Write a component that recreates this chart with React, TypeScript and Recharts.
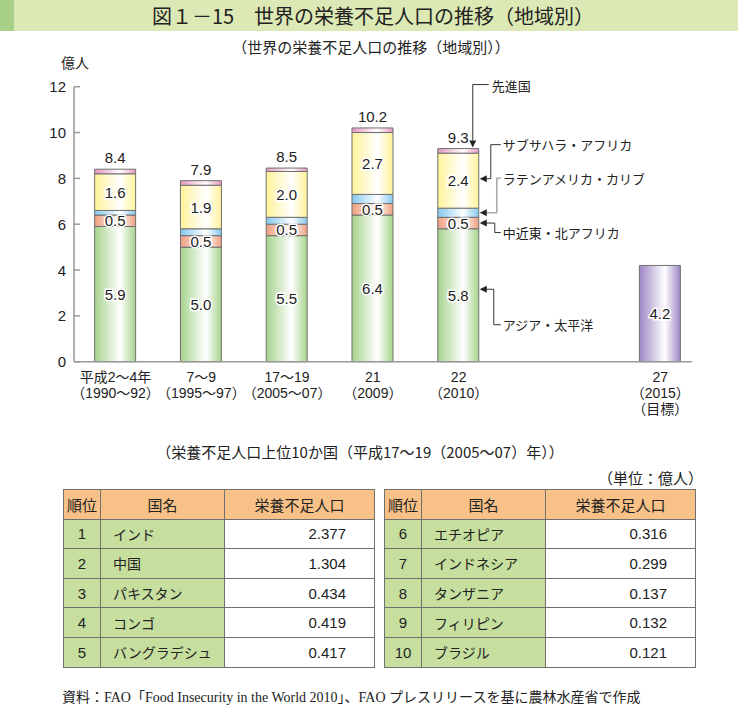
import { BarChart, Bar, XAxis, YAxis, LabelList } from 'recharts'

// period labels on the x axis
const periods = ['平成2～4年', '7～9', '17～19', '21', '22', '27']
const periodYears = ['（1990～92）', '（1995～97）', '（2005～07）', '（2009）', '（2010）', '（2015）']
const periodNotes = ['', '', '', '', '', '（目標）']
// axis position of each period (the target year stands apart)
const slots = [0, 1, 2, 3, 4, 6.35]

// 億人, bottom to top of each stack
const asiaPacific = [5.9, 5.0, 5.5, 6.4, 5.8, null]
const nearEastNorthAfrica = [0.5, 0.5, 0.5, 0.5, 0.5, null]
const latinAmerica = [0.2, 0.3, 0.3, 0.4, 0.4, null]
const subSaharaAfrica = [1.6, 1.9, 2.0, 2.7, 2.4, null]
const developed = [0.2, 0.2, 0.15, 0.2, 0.2, null]
const target = [null, null, null, null, null, 4.2]
const totals = [8.4, 7.9, 8.5, 10.2, 9.3, null]
const yTicks = [0, 2, 4, 6, 8, 10, 12]

// top 10 countries (平成17～19年)
const ranks = [1, 2, 3, 4, 5, 6, 7, 8, 9, 10]
const countries = ['インド', '中国', 'パキスタン', 'コンゴ', 'バングラデシュ', 'エチオピア', 'インドネシア', 'タンザニア', 'フィリピン', 'ブラジル']
const undernourished = [2.377, 1.304, 0.434, 0.419, 0.417, 0.316, 0.299, 0.137, 0.132, 0.121]

const data = periods.map((p, i) => ({
  pos: slots[i],
  period: p,
  asia: asiaPacific[i],
  nena: nearEastNorthAfrica[i],
  latam: latinAmerica[i],
  ssa: subSaharaAfrica[i],
  dev: developed[i],
  target: target[i],
}))

const JP = "'Noto Sans CJK JP', sans-serif"
const NUM = "'Liberation Sans', 'Noto Sans CJK JP', sans-serif"
const INK = '#222'
const EDGE = '#707070'

const gradients = [
  { id: 'gGreen', c: '#a6d38c' },
  { id: 'gOrange', c: '#ee9f80' },
  { id: 'gBlue', c: '#86c8ee' },
  { id: 'gYellow', c: '#fff39a' },
  { id: 'gPink', c: '#e597bf' },
  { id: 'gPurple', c: '#9d86c4' },
]

function box(p: any) {
  const vb = p.viewBox ?? p
  return { x: +vb.x, y: +vb.y, width: +vb.width, height: +vb.height }
}

function InsideValue(props: any) {
  const { x, y, width, height } = box(props)
  if (props.value == null || !height) return null
  return (
    <text
      x={x + width / 2}
      y={y + height / 2}
      textAnchor="middle"
      dominantBaseline="central"
      fontFamily={NUM}
      fontSize={15}
      fill={INK}
      stroke="#fff"
      strokeWidth={3}
      paintOrder="stroke"
    >
      {Number(props.value).toFixed(1)}
    </text>
  )
}

function TotalValue(props: any) {
  const { x, y, width } = box(props)
  const t = totals[props.index]
  if (t == null) return null
  return (
    <text x={x + width / 2} y={y - 6} textAnchor="middle" fontFamily={NUM} fontSize={15} fill={INK}>
      {t.toFixed(1)}
    </text>
  )
}

function arrowLeft(tx: number, ty: number) {
  return `${tx},${ty} ${tx + 7},${ty - 3.5} ${tx + 7},${ty + 3.5}`
}

// leader lines for the 平成22 bar
function makeCallout(kind: string, label: string) {
  return (props: any) => {
    if (props.index !== 4) return null
    const { x, y, width, height } = box(props)
    const r = x + width
    const mid = y + height / 2
    const txt = (tx: number, ty: number) => (
      <text x={tx} y={ty} dominantBaseline="central" fontFamily={JP} fontSize={13} fill={INK}>
        {label}
      </text>
    )
    if (kind === 'dev') {
      const ax = r - 6
      const top = y - 64
      return (
        <g>
          <polyline points={`${r + 10},${top} ${ax},${top} ${ax},${y - 8}`} fill="none" stroke="#333" />
          <polygon points={`${ax},${y - 1} ${ax - 3.5},${y - 8} ${ax + 3.5},${y - 8}`} fill="#222" />
          {txt(r + 13, top + 1)}
        </g>
      )
    }
    let vx = r + 12
    let ty = mid - 36
    let ay = mid - 2
    let color = '#333'
    if (kind === 'latam') { vx = r + 18; ty = mid - 34.5; ay = mid; color = '#aaa' }
    if (kind === 'nena') { vx = r + 16; ty = mid + 9.5; ay = mid }
    if (kind === 'asia') { vx = r + 15; ty = mid + 29.5; ay = mid - 6 }
    return (
      <g>
        <polyline
          points={`${r + 7},${ay} ${vx},${ay} ${vx},${ty} ${r + 22},${ty}`}
          fill="none"
          stroke={color}
          strokeWidth={color === '#aaa' ? 1.6 : 1}
        />
        <polygon points={arrowLeft(r + 1, ay)} fill="#222" />
        {txt(r + 24, ty)}
      </g>
    )
  }
}

function YTick(props: any) {
  const { x, y, payload } = props
  return (
    <g>
      <line x1={x + 8} x2={x + 14} y1={y} y2={y} stroke="#999" strokeWidth={1.5} />
      <text x={x} y={y} textAnchor="end" dominantBaseline="central" fontFamily={NUM} fontSize={15} fill={INK}>
        {payload.value}
      </text>
    </g>
  )
}

function XTick(props: any) {
  const { x, y, payload } = props
  const i = slots.indexOf(payload.value)
  if (i < 0) return null
  const lines = [periods[i], periodYears[i], periodNotes[i]].filter(Boolean)
  return (
    <g>
      {lines.map((l, k) => (
        <text key={k} x={x} y={y + 15.5 + k * 16} textAnchor="middle" dominantBaseline="central" fontFamily={NUM} fontSize={14} fill={INK}>
          {l}
        </text>
      ))}
    </g>
  )
}

const cellBase = { border: `1px solid ${EDGE}`, padding: 0, height: 28.6, fontSize: 15, color: INK }

function RankTable({ from, left }: { from: number; left: number }) {
  const rows = ranks.slice(from, from + 5)
  return (
    <table
      style={{
        position: 'absolute', left, top: 489, width: 311, borderCollapse: 'collapse',
        tableLayout: 'fixed', fontFamily: NUM,
      }}
    >
      <colgroup>
        <col style={{ width: 37 }} />
        <col style={{ width: 124 }} />
        <col style={{ width: 150 }} />
      </colgroup>
      <thead>
        <tr style={{ background: '#f8c187' }}>
          <th style={{ ...cellBase, fontWeight: 'normal', fontFamily: JP }}>順位</th>
          <th style={{ ...cellBase, fontWeight: 'normal', fontFamily: JP }}>国名</th>
          <th style={{ ...cellBase, fontWeight: 'normal', fontFamily: JP }}>栄養不足人口</th>
        </tr>
      </thead>
      <tbody>
        {rows.map((rank, k) => (
          <tr key={rank}>
            <td style={{ ...cellBase, background: '#c6df9f', textAlign: 'center' }}>{rank}</td>
            <td style={{ ...cellBase, background: '#c6df9f', paddingLeft: 12, fontFamily: JP, fontSize: 14 }}>
              {countries[from + k]}
            </td>
            <td style={{ ...cellBase, background: '#fff', textAlign: 'right', paddingRight: 28 }}>
              {undernourished[from + k].toFixed(3)}
            </td>
          </tr>
        ))}
      </tbody>
    </table>
  )
}

export default function App() {
  return (
    <div style={{ position: 'absolute', left: 0, top: 0, width: 738, height: 728, background: '#fff', fontFamily: JP, color: INK }}>
      <div style={{ position: 'absolute', left: 0, top: 0, width: 738, height: 31, background: '#dde9b5' }} />
      <div style={{ position: 'absolute', left: 0, top: 0, width: 14, height: 31, background: '#a8d088' }} />
      <div style={{ position: 'absolute', left: 0, top: 0, width: 746, height: 31, lineHeight: '31px', textAlign: 'center', fontSize: 20 }}>
        図１－15　世界の栄養不足人口の推移（地域別）
      </div>
      <div style={{ position: 'absolute', left: 0, top: 37, width: 742, textAlign: 'center', fontSize: 15, lineHeight: '20px' }}>
        （世界の栄養不足人口の推移（地域別））
      </div>
      <div style={{ position: 'absolute', left: 61, top: 52, fontSize: 14, lineHeight: '20px' }}>億人</div>

      <div style={{ position: 'absolute', left: 0, top: 0 }}>
        <BarChart width={738} height={440} data={data} margin={{ top: 86.7, right: 46, bottom: 18.3, left: 0 }}>
          <defs>
            {gradients.map((g) => (
              <linearGradient key={g.id} id={g.id} x1="0" y1="0" x2="1" y2="0">
                <stop offset="0%" stopColor={g.c} />
                <stop offset="62%" stopColor="#ffffff" />
                <stop offset="100%" stopColor={g.c} />
              </linearGradient>
            ))}
          </defs>
          <XAxis
            dataKey="pos"
            type="number"
            domain={[-0.484, 6.72]}
            ticks={slots}
            interval={0}
            height={60}
            tickLine={false}
            tickSize={0}
            tickMargin={0}
            axisLine={{ stroke: '#999', strokeWidth: 1.5 }}
            tick={<XTick />}
            allowDataOverflow
          />
          <YAxis
            type="number"
            domain={[0, 12]}
            ticks={yTicks}
            width={74}
            tickLine={false}
            tickSize={0}
            tickMargin={8}
            axisLine={{ stroke: '#999', strokeWidth: 1.5 }}
            tick={<YTick />}
          />
          <Bar dataKey="asia" stackId="a" barSize={41} fill="url(#gGreen)" stroke={EDGE} isAnimationActive={false}>
            <LabelList dataKey="asia" content={<InsideValue />} />
            <LabelList dataKey="asia" content={makeCallout('asia', 'アジア・太平洋')} />
          </Bar>
          <Bar dataKey="nena" stackId="a" barSize={41} fill="url(#gOrange)" stroke={EDGE} isAnimationActive={false}>
            <LabelList dataKey="nena" content={<InsideValue />} />
            <LabelList dataKey="nena" content={makeCallout('nena', '中近東・北アフリカ')} />
          </Bar>
          <Bar dataKey="latam" stackId="a" barSize={41} fill="url(#gBlue)" stroke={EDGE} isAnimationActive={false}>
            <LabelList dataKey="latam" content={makeCallout('latam', 'ラテンアメリカ・カリブ')} />
          </Bar>
          <Bar dataKey="ssa" stackId="a" barSize={41} fill="url(#gYellow)" stroke={EDGE} isAnimationActive={false}>
            <LabelList dataKey="ssa" content={<InsideValue />} />
            <LabelList dataKey="ssa" content={makeCallout('ssa', 'サブサハラ・アフリカ')} />
          </Bar>
          <Bar dataKey="dev" stackId="a" barSize={41} fill="url(#gPink)" stroke={EDGE} isAnimationActive={false}>
            <LabelList dataKey="dev" content={<TotalValue />} />
            <LabelList dataKey="dev" content={makeCallout('dev', '先進国')} />
          </Bar>
          <Bar dataKey="target" stackId="a" barSize={41} fill="url(#gPurple)" stroke={EDGE} isAnimationActive={false}>
            <LabelList dataKey="target" content={<InsideValue />} />
          </Bar>
        </BarChart>
      </div>

      <div style={{ position: 'absolute', left: 0, top: 442, width: 720, textAlign: 'center', fontSize: 15, lineHeight: '20px' }}>
        （栄養不足人口上位10か国（平成17～19（2005～07）年））
      </div>
      <div style={{ position: 'absolute', right: 35, top: 468, fontSize: 15, lineHeight: '20px' }}>（単位：億人）</div>

      <RankTable from={0} left={63} />
      <RankTable from={5} left={384} />

      <div
        style={{
          position: 'absolute', left: 62, top: 689, fontSize: 14, lineHeight: '18px',
          fontFamily: "'Liberation Serif', 'Noto Sans CJK JP', serif",
        }}
      >
        資料：FAO「Food Insecurity in the World 2010」、FAO プレスリリースを基に農林水産省で作成
      </div>
    </div>
  )
}
